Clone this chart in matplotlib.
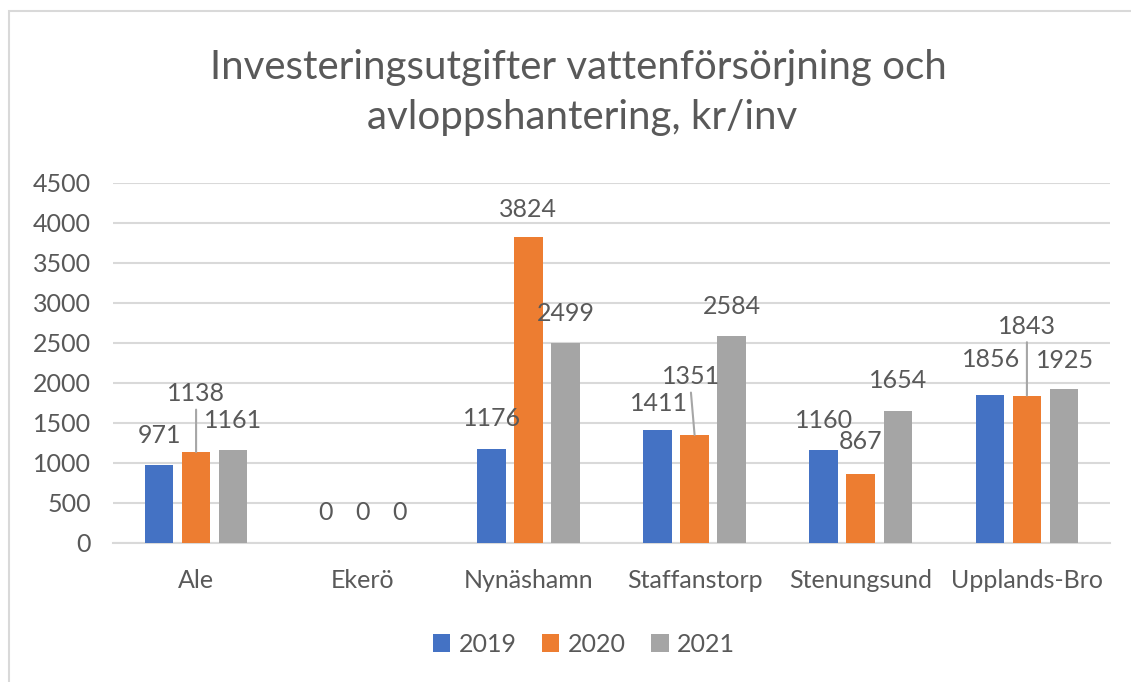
import matplotlib
matplotlib.use("Agg")
import matplotlib.pyplot as plt
import numpy as np
from matplotlib.patches import Rectangle

plt.rcParams['font.family'] = ['Lato', 'DejaVu Sans']

categories = ["Ale", "Ekerö", "Nynäshamn", "Staffanstorp", "Stenungsund", "Upplands-Bro"]
years = ["2019", "2020", "2021"]
v2019 = [971, 0, 1176, 1411, 1160, 1856]
v2020 = [1138, 0, 3824, 1351, 867, 1843]
v2021 = [1161, 0, 2499, 2584, 1654, 1925]
yticks = [0, 500, 1000, 1500, 2000, 2500, 3000, 3500, 4000, 4500]
title_lines = ["Investeringsutgifter vattenförsörjning och", "avloppshantering, kr/inv"]

colors = ["#4472C4", "#ED7D31", "#A5A5A5"]
txt = "#595959"
grid = "#D9D9D9"

W, H = 1131, 682
fig = plt.figure(figsize=(W / 100, H / 100), dpi=100)
fig.patches.append(Rectangle((9 / W, -0.1), 1.2, 1 - 11 / H + 0.1, transform=fig.transFigure,
                             fill=False, edgecolor="#D9D9D9", linewidth=1.5))
ax = fig.add_axes([113 / W, 1 - 543 / H, (1110 - 113) / W, (543 - 183) / H])

x = np.arange(len(categories))
bw = 0.172
step = 0.223
series = [v2019, v2020, v2021]
# label offsets in pixels (dx, dy), leader flag
special = {
    (1, 0): (0, 58, True),
    (1, 3): (-4, 58, True),
    (1, 5): (0, 69, True),
    (0, 5): (1, 35, False),
    (2, 5): (1, 28, False),
    (0, 3): (1, 27, False),
    (1, 4): (0, 32, False),
    (1, 2): (0, 28, False),
    (0, 2): (1, 30, False),
}
for si, (vals, c) in enumerate(zip(series, colors)):
    xs = x + (si - 1) * step
    ax.bar(xs, vals, width=bw, color=c, label=years[si], zorder=3)
    for ci, (xx, v) in enumerate(zip(xs, vals)):
        dx, dy, lead = special.get((si, ci), (0, 30, False))
        if lead:
            ax.annotate(str(v), xy=(xx, v), xytext=(dx, dy), textcoords="offset pixels",
                        ha="center", va="center", fontsize=18, color=txt, zorder=6,
                        arrowprops=dict(arrowstyle="-", color="#A6A6A6", lw=1.5,
                                        shrinkA=1, shrinkB=0, relpos=(0.5, 0)))
        else:
            ax.annotate(str(v), xy=(xx, v), xytext=(dx, dy), textcoords="offset pixels",
                        ha="center", va="center", fontsize=18, color=txt, zorder=6)

ax.set_xlim(-0.5, len(categories) - 0.5)
ax.set_ylim(0, 4500)
ax.set_yticks(yticks)
ax.set_xticks(x)
ax.set_xticklabels(categories)
ax.tick_params(axis="both", length=0, labelsize=18, labelcolor=txt)
ax.tick_params(axis="x", pad=19)
ax.tick_params(axis="y", pad=16)
ax.yaxis.grid(True, color=grid, linewidth=1.5, zorder=0)
ax.set_axisbelow(True)
for s in ["top", "right", "left"]:
    ax.spines[s].set_visible(False)
ax.spines["bottom"].set_color(grid)
ax.spines["bottom"].set_linewidth(1.5)

fig.text(578 / W, 1 - 68 / H, title_lines[0], ha="center", va="center", fontsize=29, color=txt)
fig.text(582 / W, 1 - 117 / H, title_lines[1], ha="center", va="center", fontsize=29, color=txt)

fig.legend(loc="center", bbox_to_anchor=(584 / W, 1 - 644 / H), ncol=3, frameon=False,
           fontsize=18, labelcolor=txt, handlelength=0.7, handleheight=0.7,
           handletextpad=0.35, columnspacing=1.0)

fig.savefig("out.png", dpi=100)
